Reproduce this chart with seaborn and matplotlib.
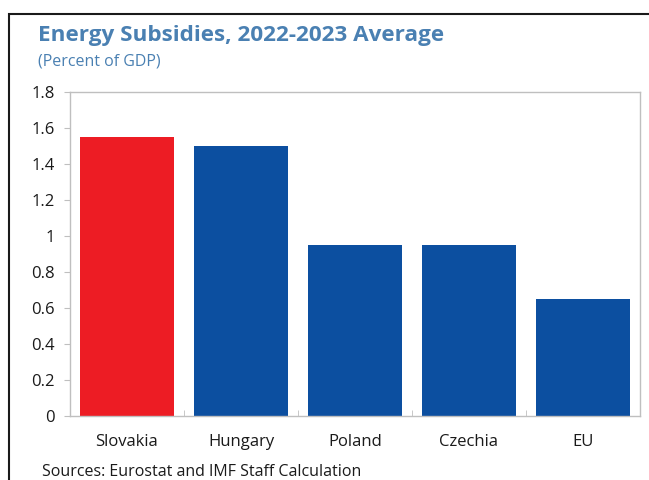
import matplotlib
matplotlib.use("Agg")
import matplotlib.pyplot as plt
import seaborn as sns
import pandas as pd
from matplotlib.patches import Rectangle

categories = ["Slovakia", "Hungary", "Poland", "Czechia", "EU"]
values = [1.55, 1.50, 0.95, 0.95, 0.65]
bar_colors = ["#ED1C24", "#0C4FA0", "#0C4FA0", "#0C4FA0", "#0C4FA0"]
yticks = [0, 0.2, 0.4, 0.6, 0.8, 1, 1.2, 1.4, 1.6, 1.8]
ytick_labels = ["0", "0.2", "0.4", "0.6", "0.8", "1", "1.2", "1.4", "1.6", "1.8"]

sns.set_style("white")
plt.rcParams["font.family"] = ["Open Sans", "DejaVu Sans"]

df = pd.DataFrame({"country": categories, "value": values})

W, H = 649, 480
fig = plt.figure(figsize=(W / 100, H / 100), dpi=100)
ax = fig.add_axes([70 / W, 1 - 416 / H, 570 / W, (416 - 92) / H])

sns.barplot(data=df, x="country", y="value", hue="country", palette=bar_colors,
            width=0.83, saturation=1, legend=False, linewidth=0, ax=ax)

ax.set_ylim(0, 1.8)
ax.set_xlim(-0.5, len(categories) - 0.5)
ax.set_yticks(yticks)
ax.set_yticklabels(ytick_labels)
ax.set_xlabel("")
ax.set_ylabel("")
for s in ax.spines.values():
    s.set_color("#bfbfbf")
    s.set_linewidth(1.0)
ax.tick_params(axis="y", length=4, color="#bfbfbf", labelsize=12, labelcolor="#1a1a1a", pad=7, direction="out", left=True)
ax.tick_params(axis="x", length=0, labelsize=12, labelcolor="#1a1a1a", pad=13)
ax.set_xticks([i + 0.5 for i in range(len(categories) - 1)], minor=True)
ax.tick_params(axis="x", which="minor", length=4, color="#bfbfbf", direction="in", bottom=True)

# outer frame
fig.patches.append(Rectangle((9 / W, -0.1), 1.0, 1 - 14 / H + 0.1, transform=fig.transFigure,
                             fill=False, edgecolor="#1a1a1a", linewidth=1.5))

fig.text(38 / W, 1 - 36 / H, "Energy Subsidies, 2022-2023 Average", fontsize=16.2,
         fontweight="bold", color="#4A80B2", va="center", ha="left")
fig.text(38 / W, 1 - 61 / H, "(Percent of GDP)", fontsize=11.5, color="#4A80B2",
         va="center", ha="left")
fig.text(42 / W, 1 - 472 / H, "Sources: Eurostat and IMF Staff Calculation", fontsize=11.5,
         color="#1a1a1a", va="center", ha="left")

fig.savefig("out.png", dpi=100)
